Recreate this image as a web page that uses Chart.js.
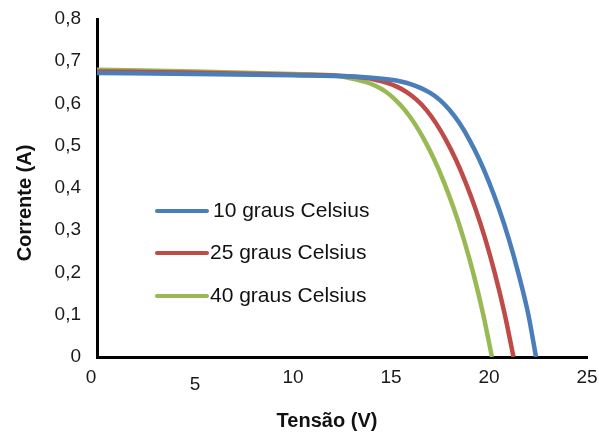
<!DOCTYPE html>
<html>
<head>
<meta charset="utf-8">
<script src="https://cdn.jsdelivr.net/npm/chart.js@4/dist/chart.umd.min.js"></script>
<style>
html,body{margin:0;padding:0;background:#fff;}
#wrap{width:599px;height:434px;position:relative;}
</style>
</head>
<body>
<div id="wrap"><canvas id="c" width="599" height="434"></canvas></div>
<script>
// Data
const seriesLabels = ['10 graus Celsius', '25 graus Celsius', '40 graus Celsius'];
const voltage10 = [0, 5, 10, 13, 14, 15, 15.5, 16, 16.5, 17, 17.5, 18, 18.5, 19, 19.5, 20, 20.5, 21, 21.5, 22, 22.4];
const current10 = [0.672, 0.670, 0.667, 0.664, 0.661, 0.656, 0.652, 0.646, 0.637, 0.625, 0.608, 0.584, 0.553, 0.514, 0.468, 0.414, 0.352, 0.281, 0.198, 0.102, 0];
const voltage25 = [0, 5, 10, 13, 13.8, 14.3, 14.8, 15.3, 15.8, 16.3, 16.8, 17.3, 17.8, 18.3, 18.8, 19.3, 19.8, 20.3, 20.8, 21.25];
const current25 = [0.676, 0.673, 0.668, 0.664, 0.660, 0.655, 0.649, 0.640, 0.627, 0.609, 0.585, 0.553, 0.514, 0.468, 0.414, 0.352, 0.281, 0.198, 0.102, 0];
const voltage40 = [0, 5, 10, 12, 12.7, 13.2, 13.7, 14.2, 14.7, 15.2, 15.7, 16.2, 16.7, 17.2, 17.7, 18.2, 18.7, 19.2, 19.7, 20.15];
const current40 = [0.680, 0.676, 0.670, 0.667, 0.662, 0.657, 0.651, 0.642, 0.629, 0.610, 0.585, 0.553, 0.514, 0.468, 0.414, 0.352, 0.281, 0.198, 0.102, 0];
const xTicks = [0, 5, 10, 15, 20, 25];
const yTicks = [0, 0.1, 0.2, 0.3, 0.4, 0.5, 0.6, 0.7, 0.8];
const colors = ['#4a7ebb', '#be4b48', '#98b954'];

const FONT = "'Liberation Sans', Arial, sans-serif";

function pts(xs, ys){ return xs.map((x,i)=>({x:x, y:ys[i]})); }

const overlay = {
  id: 'overlay',
  afterDraw(chart){
    const ctx = chart.ctx;
    const xs = chart.scales.x, ys = chart.scales.y;
    ctx.save();
    // x tick labels
    ctx.fillStyle = '#1a1a1a';
    ctx.font = '19px ' + FONT;
    ctx.textAlign = 'center';
    ctx.textBaseline = 'middle';
    xTicks.forEach(v=>{
      let px = xs.getPixelForValue(v);
      let py = ys.bottom + 21;
      if (v === 0) px -= 6;
      if (v === 5) py += 7;
      ctx.fillText(String(v), px, py);
    });
    // axis titles
    ctx.font = 'bold 20px ' + FONT;
    ctx.fillStyle = '#111';
    ctx.fillText('Tensão (V)', 327, 421);
    ctx.save();
    ctx.translate(25, 203);
    ctx.rotate(-Math.PI/2);
    ctx.fillText('Corrente (A)', 0, 0);
    ctx.restore();
    // legend
    const ly = [211, 253, 296];
    chart.data.datasets.forEach((ds,i)=>{
      ctx.strokeStyle = ds.borderColor;
      ctx.lineWidth = 4;
      ctx.lineCap = 'round';
      ctx.beginPath();
      ctx.moveTo(157, ly[i]);
      ctx.lineTo(207, ly[i]);
      ctx.stroke();
      ctx.fillStyle = '#111';
      ctx.font = '21px ' + FONT;
      ctx.textAlign = 'left';
      ctx.fillText(ds.label, i === 0 ? 213 : 210, ly[i]);
    });
    ctx.restore();
  }
};

new Chart(document.getElementById('c'), {
  type: 'line',
  data: {
    datasets: [
      {label: seriesLabels[0], data: pts(voltage10, current10), borderColor: colors[0]},
      {label: seriesLabels[1], data: pts(voltage25, current25), borderColor: colors[1]},
      {label: seriesLabels[2], data: pts(voltage40, current40), borderColor: colors[2]}
    ].map(d=>Object.assign(d, {borderWidth: 4.5, pointRadius: 0, fill: false, cubicInterpolationMode: 'monotone'}))
  },
  options: {
    responsive: false,
    animation: false,
    devicePixelRatio: 1,
    layout: {padding: {left: 0, top: 19, right: 12, bottom: 0}},
    plugins: {legend: {display: false}, tooltip: {enabled: false}},
    scales: {
      x: {
        type: 'linear', min: 0, max: 25,
        afterFit(s){ s.height = 77; s.paddingLeft = 0; s.paddingRight = 0; },
        grid: {display: false, drawTicks: false},
        border: {display: true, color: '#000', width: 3},
        ticks: {display: false, stepSize: 5}
      },
      y: {
        type: 'linear', min: 0, max: 0.8,
        afterFit(s){ s.width = 97; s.paddingTop = 0; s.paddingBottom = 0; },
        afterBuildTicks(s){ s.ticks = yTicks.map(v=>({value: v})); },
        grid: {display: false, drawTicks: false},
        border: {display: true, color: '#000', width: 3},
        ticks: {
          padding: 16,
          color: '#1a1a1a',
          font: {family: FONT, size: 19},
          callback: v => v === 0 ? '0' : v.toFixed(1).replace('.', ',')
        }
      }
    }
  },
  plugins: [overlay]
});
</script>
</body>
</html>
